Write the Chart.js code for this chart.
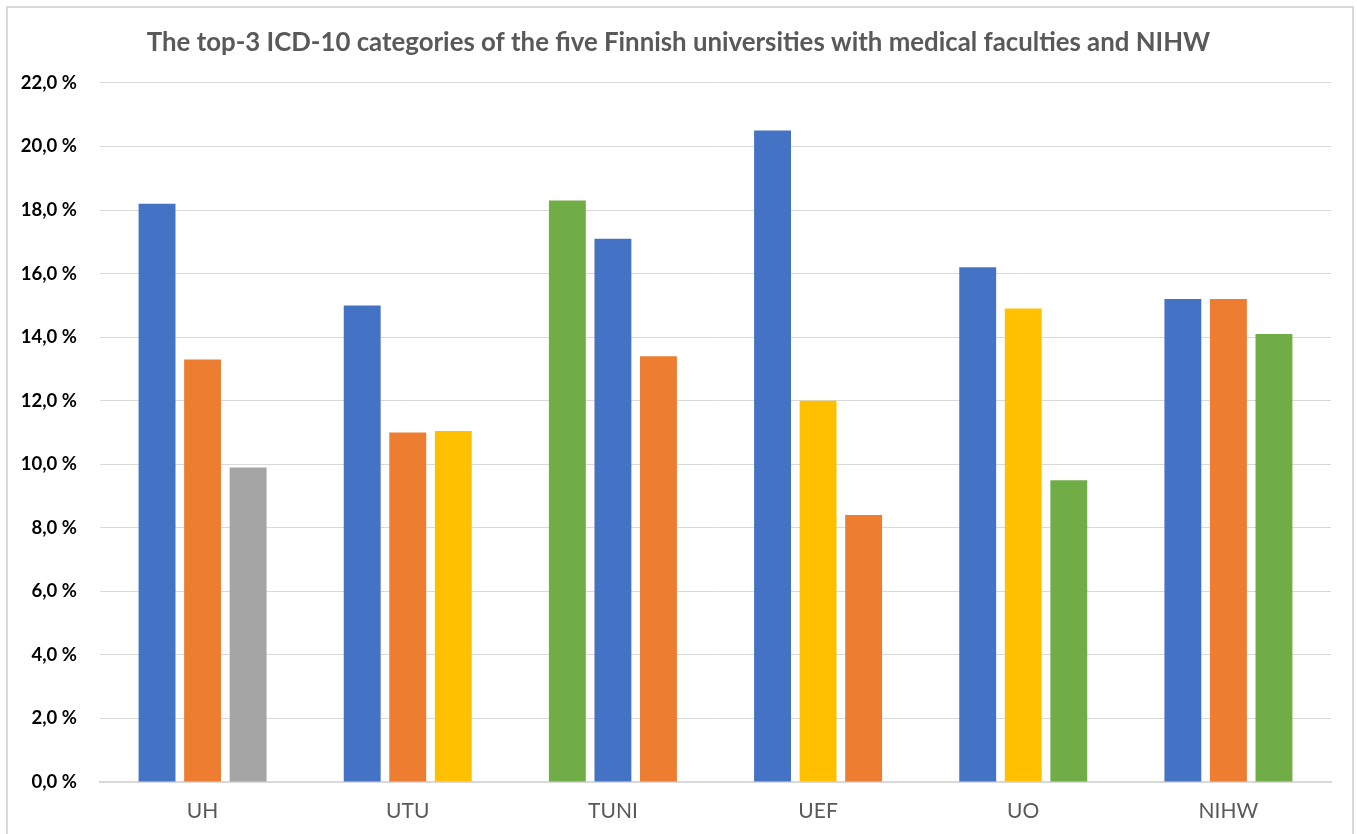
<!DOCTYPE html>
<html>
<head>
<meta charset="utf-8">
<script src="https://cdn.jsdelivr.net/npm/chart.js@4.4.1/dist/chart.umd.min.js"></script>
<style>
  html, body { margin: 0; padding: 0; background: #fff; }
  #wrap { position: relative; width: 1357px; height: 834px; overflow: hidden; }
  #frame { position: absolute; left: 6px; top: 6px; width: 1344px; height: 840px; border: 2px solid #d9d9d9; pointer-events: none; }
  canvas { position: absolute; left: 0; top: 0; }
</style>
</head>
<body>
<div id="wrap">
  <canvas id="chart" width="1357" height="834"></canvas>
  <div id="frame"></div>
</div>
<script>
// categories (universities + NIHW)
const categories = ["UH", "UTU", "TUNI", "UEF", "UO", "NIHW"];

// share (%) of the 1st, 2nd and 3rd most common ICD-10 category
const firstValues = [18.2, 15.0, 18.3, 20.5, 16.2, 15.2];
const secondValues = [13.3, 11.0, 17.1, 12.0, 14.9, 15.2];
const thirdValues = [9.9, 11.05, 13.4, 8.4, 9.5, 14.1];

// colour of each bar (the colour tells which ICD-10 category it is)
const BLUE = "#4472C4", ORANGE = "#ED7D31", GRAY = "#A5A5A5", YELLOW = "#FFC000", GREEN = "#70AD47";
const firstColors = [BLUE, BLUE, GREEN, BLUE, BLUE, BLUE];
const secondColors = [ORANGE, ORANGE, BLUE, YELLOW, YELLOW, ORANGE];
const thirdColors = [GRAY, YELLOW, ORANGE, ORANGE, GREEN, GREEN];

const yTicks = [0, 2, 4, 6, 8, 10, 12, 14, 16, 18, 20, 22];

const ctx = document.querySelector("#chart");

function makeSet(label, data, colors) {
  return {
    label: label,
    data: data,
    backgroundColor: colors,
    categoryPercentage: 0.666,
    barPercentage: 0.81,
  };
}

new Chart(ctx, {
  type: "bar",
  data: {
    labels: categories,
    datasets: [
      makeSet("1st", firstValues, firstColors),
      makeSet("2nd", secondValues, secondColors),
      makeSet("3rd", thirdValues, thirdColors),
    ],
  },
  options: {
    responsive: false,
    animation: false,
    layout: { padding: 0 },
    plugins: {
      legend: { display: false },
      tooltip: { enabled: false },
      title: {
        display: true,
        text: "The top-3 ICD-10 categories of the five Finnish universities with medical faculties and NIHW",
        color: "#595959",
        font: { family: "Lato", size: 25.8, weight: "bold" },
        padding: { top: 27, bottom: 25 },
      },
    },
    scales: {
      x: {
        afterFit: (axis) => { axis.height = 52; },
        grid: { display: false, drawTicks: false },
        border: { color: "#d9d9d9", width: 2 },
        ticks: {
          color: "#595959",
          padding: 17,
          font: { family: "Lato", size: 21 },
        },
      },
      y: {
        min: 0,
        max: 22,
        afterBuildTicks: (axis) => { axis.ticks = yTicks.map((v) => ({ value: v })); },
        afterFit: (axis) => { axis.width = 100; },
        grid: { color: "#d9d9d9", lineWidth: 1, drawTicks: false },
        border: { display: false },
        ticks: {
          color: "#000",
          padding: 23,
          font: { family: "Lato", size: 18.5, weight: "bold" },
          callback: (v) => v.toFixed(1).replace(".", ",") + " %",
        },
      },
      // empty right-hand axis, only keeps the margin on the right
      yRight: {
        position: "right",
        min: 0,
        max: 22,
        afterFit: (axis) => { axis.width = 26; },
        grid: { display: false, drawTicks: false },
        border: { display: false },
        ticks: { display: false },
      },
    },
  },
});
</script>
</body>
</html>
